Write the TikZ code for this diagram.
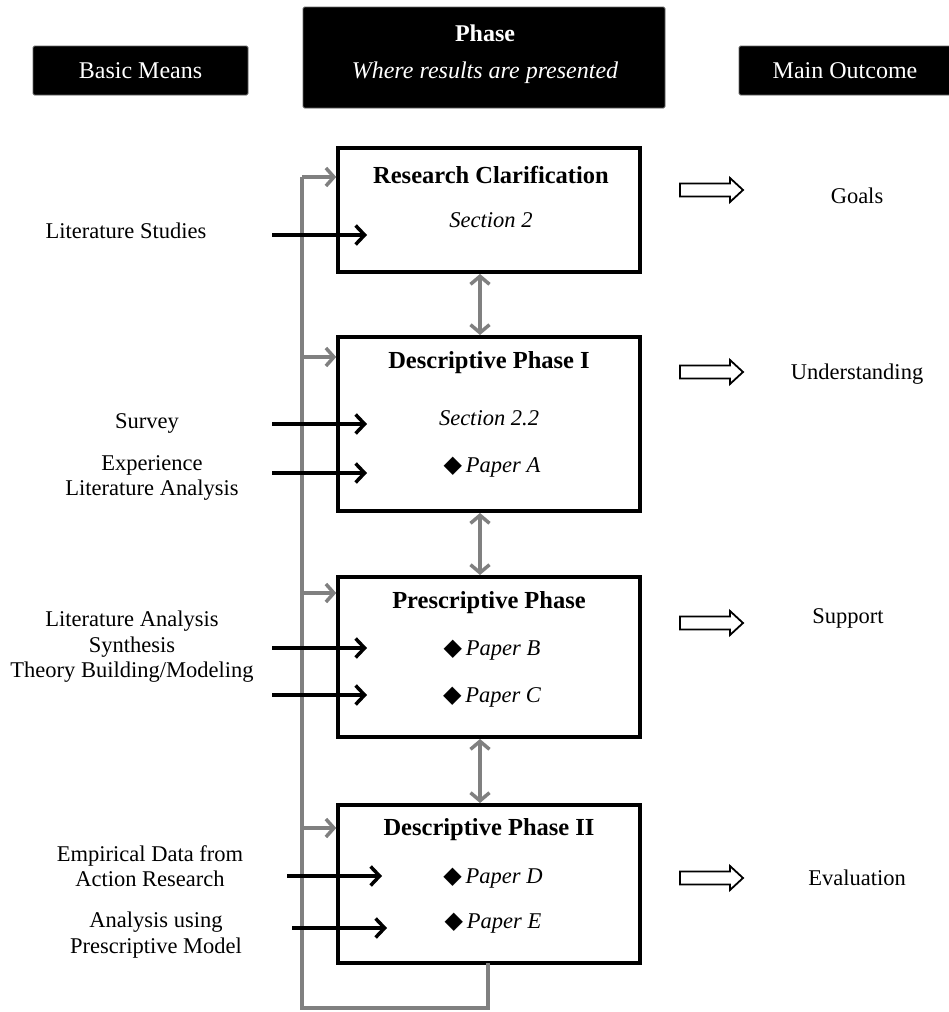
\documentclass[tikz,border=0pt]{standalone}
\usepackage{fontspec}
\setmainfont{Liberation Serif}
\newfontfamily\symfont{DejaVu Sans}
\usetikzlibrary{arrows.meta,calc}
\definecolor{loopgrey}{HTML}{808080}
\newcommand{\dia}{{\symfont\fontsize{24}{26}\selectfont ◆}\,}
\begin{document}
\begin{tikzpicture}[x=1pt,y=-1pt,
  hdr/.style={fill=black,draw=black!60,line width=0.8pt,rounded corners=1.5pt,inner sep=0pt},
  hdrtxt/.style={text=white,font=\fontsize{24}{28}\selectfont,inner sep=0pt},
  phasebox/.style={draw=black,line width=3.5pt,fill=white,inner sep=0pt,minimum width=302pt},
  txt/.style={font=\fontsize{22.5}{25.5}\selectfont,align=center,inner sep=0pt},
  ttl/.style={font=\fontsize{24.5}{28}\selectfont\bfseries,inner sep=0pt},
  itl/.style={font=\fontsize{22.5}{26}\selectfont\itshape,inner sep=0pt},
  inarrow/.style={line width=3.5pt,-{Straight Barb[length=9pt,width=19pt,line width=3.5pt]}},
  greyarrow/.style={loopgrey,line width=3.5pt,-{Straight Barb[length=8pt,width=18pt,line width=3.5pt]}},
  greyline/.style={loopgrey,line width=3.5pt},
  twoway/.style={loopgrey,line width=3.5pt,{Straight Barb[length=8pt,width=19pt,line width=3.5pt]}-{Straight Barb[length=8pt,width=19pt,line width=3.5pt]}},
  outarrow/.style={draw=black,line width=1.8pt,fill=white,line join=miter},
  outtxt/.style={font=\fontsize{22.5}{26}\selectfont,inner sep=0pt}
]
\useasboundingbox (0,0) rectangle (949,1012);

% headers
\node[hdr,minimum width=215pt,minimum height=49pt] (hbm) at (140.5,70.5) {};
\node[hdrtxt] (hbmt) at (hbm.center) {Basic Means};
\node[hdr,minimum width=362pt,minimum height=101pt] (hph) at (484,57.5) {};
\node[hdrtxt,font=\fontsize{24}{28}\selectfont\bfseries] (hpht) at (485,33) {Phase};
\node[hdrtxt,font=\fontsize{24}{28}\selectfont\itshape] (hphs) at (485,73) {Where results are presented};
\node[hdr,minimum width=212pt,minimum height=49pt] (hmo) at (845,70.5) {};
\node[hdrtxt] (hmot) at (hmo.center) {Main Outcome};

% grey feedback loop
\coordinate (lbot) at (488,963);
\coordinate (lcorner1) at (488,1008);
\coordinate (lcorner2) at (302,1008);
\coordinate (ltop) at (302,177);
\coordinate (g2) at (302,357);
\coordinate (g3) at (302,593);
\coordinate (g4) at (302,828);

% phase boxes
\node[phasebox,minimum height=124pt] (rc) at (489,210) {};
\node[phasebox,minimum height=174pt] (dp1) at (489,424) {};
\node[phasebox,minimum height=160pt] (pp) at (489,657) {};
\node[phasebox,minimum height=158pt] (dp2) at (489,884) {};

\draw[greyline,line join=miter] (lbot) -- (lcorner1) -- (lcorner2) -- (ltop);
\draw[greyarrow] (ltop) -- (ltop -| rc.west);
\draw[greyarrow] (g2) -- (g2 -| dp1.west);
\draw[greyarrow] (g3) -- (g3 -| pp.west);
\draw[greyarrow] (g4) -- (g4 -| dp2.west);

% two-way arrows
\draw[twoway] (480,274) -- (480,335);
\draw[twoway] (480,513) -- (480,575);
\draw[twoway] (480,739) -- (480,803);

% box texts
\node[ttl] (rct) at (491,175) {Research Clarification};
\node[itl] (rcs) at (491,220) {Section 2};
\node[ttl] (dp1t) at (489,363) {Descriptive Phase I};
\node[itl] (dp1s) at (489,418) {Section 2.2};
\node[itl] (dp1a) at (492,467) {\dia Paper A};
\node[ttl] (ppt) at (489,603) {Prescriptive Phase};
\node[itl] (ppb) at (492,650) {\dia Paper B};
\node[itl] (ppc) at (492,697) {\dia Paper C};
\node[ttl] (dp2t) at (489,830) {Descriptive Phase II};
\node[itl] (dp2d) at (493,878) {\dia Paper D};
\node[itl] (dp2e) at (493,923) {\dia Paper E};

% left labels
\node[txt] (m1) at (126,231) {Literature Studies};
\node[txt] (m2) at (147,423) {Survey};
\node[txt] (m3) at (152,478) {Experience\\Literature Analysis};
\node[txt] (m4) at (132,647) {Literature Analysis\\Synthesis\\Theory Building/Modeling};
\node[txt] (m5) at (150,866) {Empirical Data from\\Action Research};
\node[txt] (m6) at (156,935) {Analysis using\\Prescriptive Model};

% black input arrows
\coordinate (a1s) at (272,235); \coordinate (a1e) at (367,235);
\coordinate (a2s) at (272,424); \coordinate (a2e) at (367,424);
\coordinate (a3s) at (272,473); \coordinate (a3e) at (367,473);
\coordinate (a4s) at (272,648); \coordinate (a4e) at (367,648);
\coordinate (a5s) at (272,695); \coordinate (a5e) at (367,695);
\coordinate (a6s) at (287,876); \coordinate (a6e) at (382,876);
\coordinate (a7s) at (292,928); \coordinate (a7e) at (387,928);
\foreach \i in {1,...,7} {\draw[inarrow] (a\i s) -- (a\i e);}

% outcome arrows (open block arrows) and texts
\foreach \n/\yy in {o1/190,o2/372,o3/623,o4/878} {
  \coordinate (\n) at (680,\yy);
  \draw[outarrow] ($(\n)+(0,-6.5)$) -- ++(50,0) -- ++(0,-5.5) -- ++(13,12) -- ++(-13,12) -- ++(0,-5.5) -- ++(-50,0) -- cycle;
}
\node[outtxt] (o1t) at (857,196) {Goals};
\node[outtxt] (o2t) at (857,374) {Understanding};
\node[outtxt] (o3t) at (848,618) {Support};
\node[outtxt] (o4t) at (857,878) {Evaluation};
\end{tikzpicture}
\end{document}
